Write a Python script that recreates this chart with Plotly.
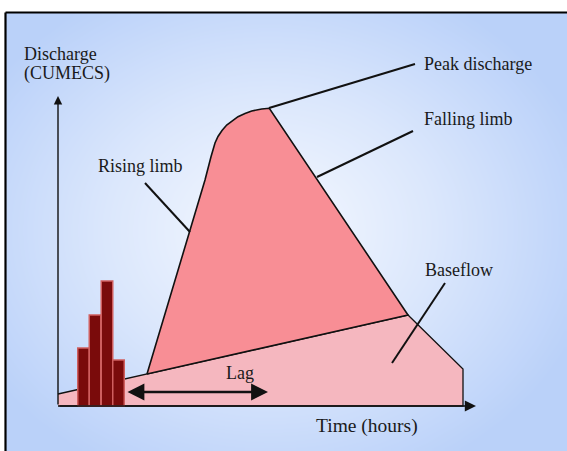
import numpy as np
import plotly.graph_objects as go

# hydrograph data (time in hours, discharge in cumecs)
base_t = [0.0, 35.0, 40.5, 40.5, 0.0]
base_q = [1.2, 9.1, 3.7, 0.0, 0.0]

storm_t = [8.9, 13.2, 14.7, 15.3, 15.5, 15.7, 16.0, 16.4, 16.87, 17.4, 18.0, 18.7, 19.37, 20.37, 21.13, 35.0, 8.9]
storm_q = [3.2, 17.6, 22.6, 24.93, 25.7, 26.3, 26.95, 27.55, 28.1, 28.5, 28.93, 29.25, 29.5, 29.7, 29.77, 9.1, 3.2]

rain_t = [2.55, 3.7, 4.9, 6.05]
rain_h = [5.8, 9.1, 12.5, 4.6]
rain_w = 1.15

axis_end_t = 41.8
axis_end_q = 31.0

lag_start, lag_end, lag_q = 6.8, 21.0, 1.4

# leader lines: (from_t, from_q, to_t, to_q)
leaders = [
    (21.1, 29.8, 35.7, 34.2),   # peak discharge
    (25.9, 22.9, 35.5, 27.5),   # falling limb
    (8.7, 22.3, 13.2, 17.4),    # rising limb
    (38.7, 12.3, 33.4, 4.3),    # baseflow
]

labels = ["Discharge", "(CUMECS)", "Peak discharge", "Falling limb", "Rising limb", "Baseflow", "Lag", "Time (hours)"]
label_t = [-3.5, -3.5, 36.5, 36.5, 3.9, 36.6, 18.2, 30.9]
label_q = [35.2, 33.3, 34.2, 28.7, 24.0, 13.6, 3.3, -2.0]
label_anchor = ["left", "left", "left", "left", "left", "left", "center", "center"]

W, H = 567, 451
X0, Y0, PX = 58, 406, 10.0  # origin pixel and pixels per unit
xr = [-X0 / PX, (W - X0) / PX]
yr = [(Y0 - H) / PX, Y0 / PX]

FAMILY = "Liberation Serif, Times New Roman, serif"

fig = go.Figure()

# radial background glow inside the frame
gx0, gx1 = (6 - X0) / PX, xr[1]
gy0, gy1 = yr[0], (Y0 - 13) / PX
nx, ny = 90, 70
gx = gx0 + (np.arange(nx) + 0.5) * (gx1 - gx0) / nx
gy = gy0 + (np.arange(ny) + 0.5) * (gy1 - gy0) / ny
cx, cy = (270 - X0) / PX, (Y0 - 230) / PX
GX, GY = np.meshgrid(gx, gy)
z = np.sqrt(((GX - cx) / 33.0) ** 2 + ((GY - cy) / 27.0) ** 2)
fig.add_trace(go.Heatmap(
    x=gx, y=gy, z=z, zmin=0, zmax=1.0, zsmooth="best",
    colorscale=[[0, "#f6f9ff"], [0.5, "#dbe7fc"], [1, "#bad1f9"]],
    showscale=False, hoverinfo="skip",
))

fig.add_trace(go.Scatter(
    x=base_t, y=base_q, mode="lines", fill="toself", fillcolor="#f5b7bf",
    line=dict(color="#111", width=1.3), hoverinfo="skip",
))
fig.add_trace(go.Scatter(
    x=storm_t, y=storm_q, mode="lines", fill="toself", fillcolor="#f88e95",
    line=dict(color="#111", width=1.6), hoverinfo="skip",
))

for t, h in zip(rain_t, rain_h):
    l, r = t - rain_w / 2, t + rain_w / 2
    fig.add_trace(go.Scatter(
        x=[l, l, r, r, l], y=[0, h, h, 0, 0], mode="lines", fill="toself",
        fillcolor="#7a0b0b", line=dict(color="#cf5f5f", width=1.5), hoverinfo="skip",
    ))

for t0, q0, t1, q1 in leaders:
    fig.add_trace(go.Scatter(
        x=[t0, t1], y=[q0, q1], mode="lines",
        line=dict(color="#111", width=2), hoverinfo="skip",
    ))

ann = []
# axes with arrows
ann.append(dict(x=0, y=axis_end_q, ax=0, ay=0, xref="x", yref="y", axref="x", ayref="y",
                showarrow=True, arrowhead=2, arrowsize=1.2, arrowwidth=1.4, arrowcolor="#111", text=""))
ann.append(dict(x=axis_end_t, y=0, ax=0, ay=0, xref="x", yref="y", axref="x", ayref="y",
                showarrow=True, arrowhead=2, arrowsize=1.4, arrowwidth=1.6, arrowcolor="#111", text=""))
# lag arrow
ann.append(dict(x=lag_end, y=lag_q, ax=lag_start, ay=lag_q, xref="x", yref="y", axref="x", ayref="y",
                showarrow=True, arrowhead=2, arrowside="end+start", arrowsize=1.3, arrowwidth=2.6,
                arrowcolor="#111", text=""))
for txt, t, q, a in zip(labels, label_t, label_q, label_anchor):
    size = 19.5 if txt.startswith("Time") else 18
    ann.append(dict(x=t, y=q, xref="x", yref="y", text=txt, showarrow=False, borderpad=0,
                    xanchor=a, yanchor="middle", font=dict(family=FAMILY, size=size, color="#1a1a1a")))

fig.update_layout(
    width=W, height=H,
    margin=dict(l=0, r=0, t=0, b=0),
    paper_bgcolor="white", plot_bgcolor="white",
    showlegend=False,
    xaxis=dict(range=xr, visible=False, fixedrange=True),
    yaxis=dict(range=yr, visible=False, fixedrange=True),
    annotations=ann,
    shapes=[
        dict(type="line", xref="paper", yref="paper", x0=5.5 / W, x1=1, y0=1 - 12.5 / H, y1=1 - 12.5 / H,
             line=dict(color="#000", width=2.2)),
        dict(type="line", xref="paper", yref="paper", x0=5.5 / W, x1=5.5 / W, y0=0, y1=1 - 12.5 / H,
             line=dict(color="#000", width=2.2)),
    ],
)

fig.write_html("out.html", config={"displayModeBar": False},
               post_script="document.body.style.margin='0';")
